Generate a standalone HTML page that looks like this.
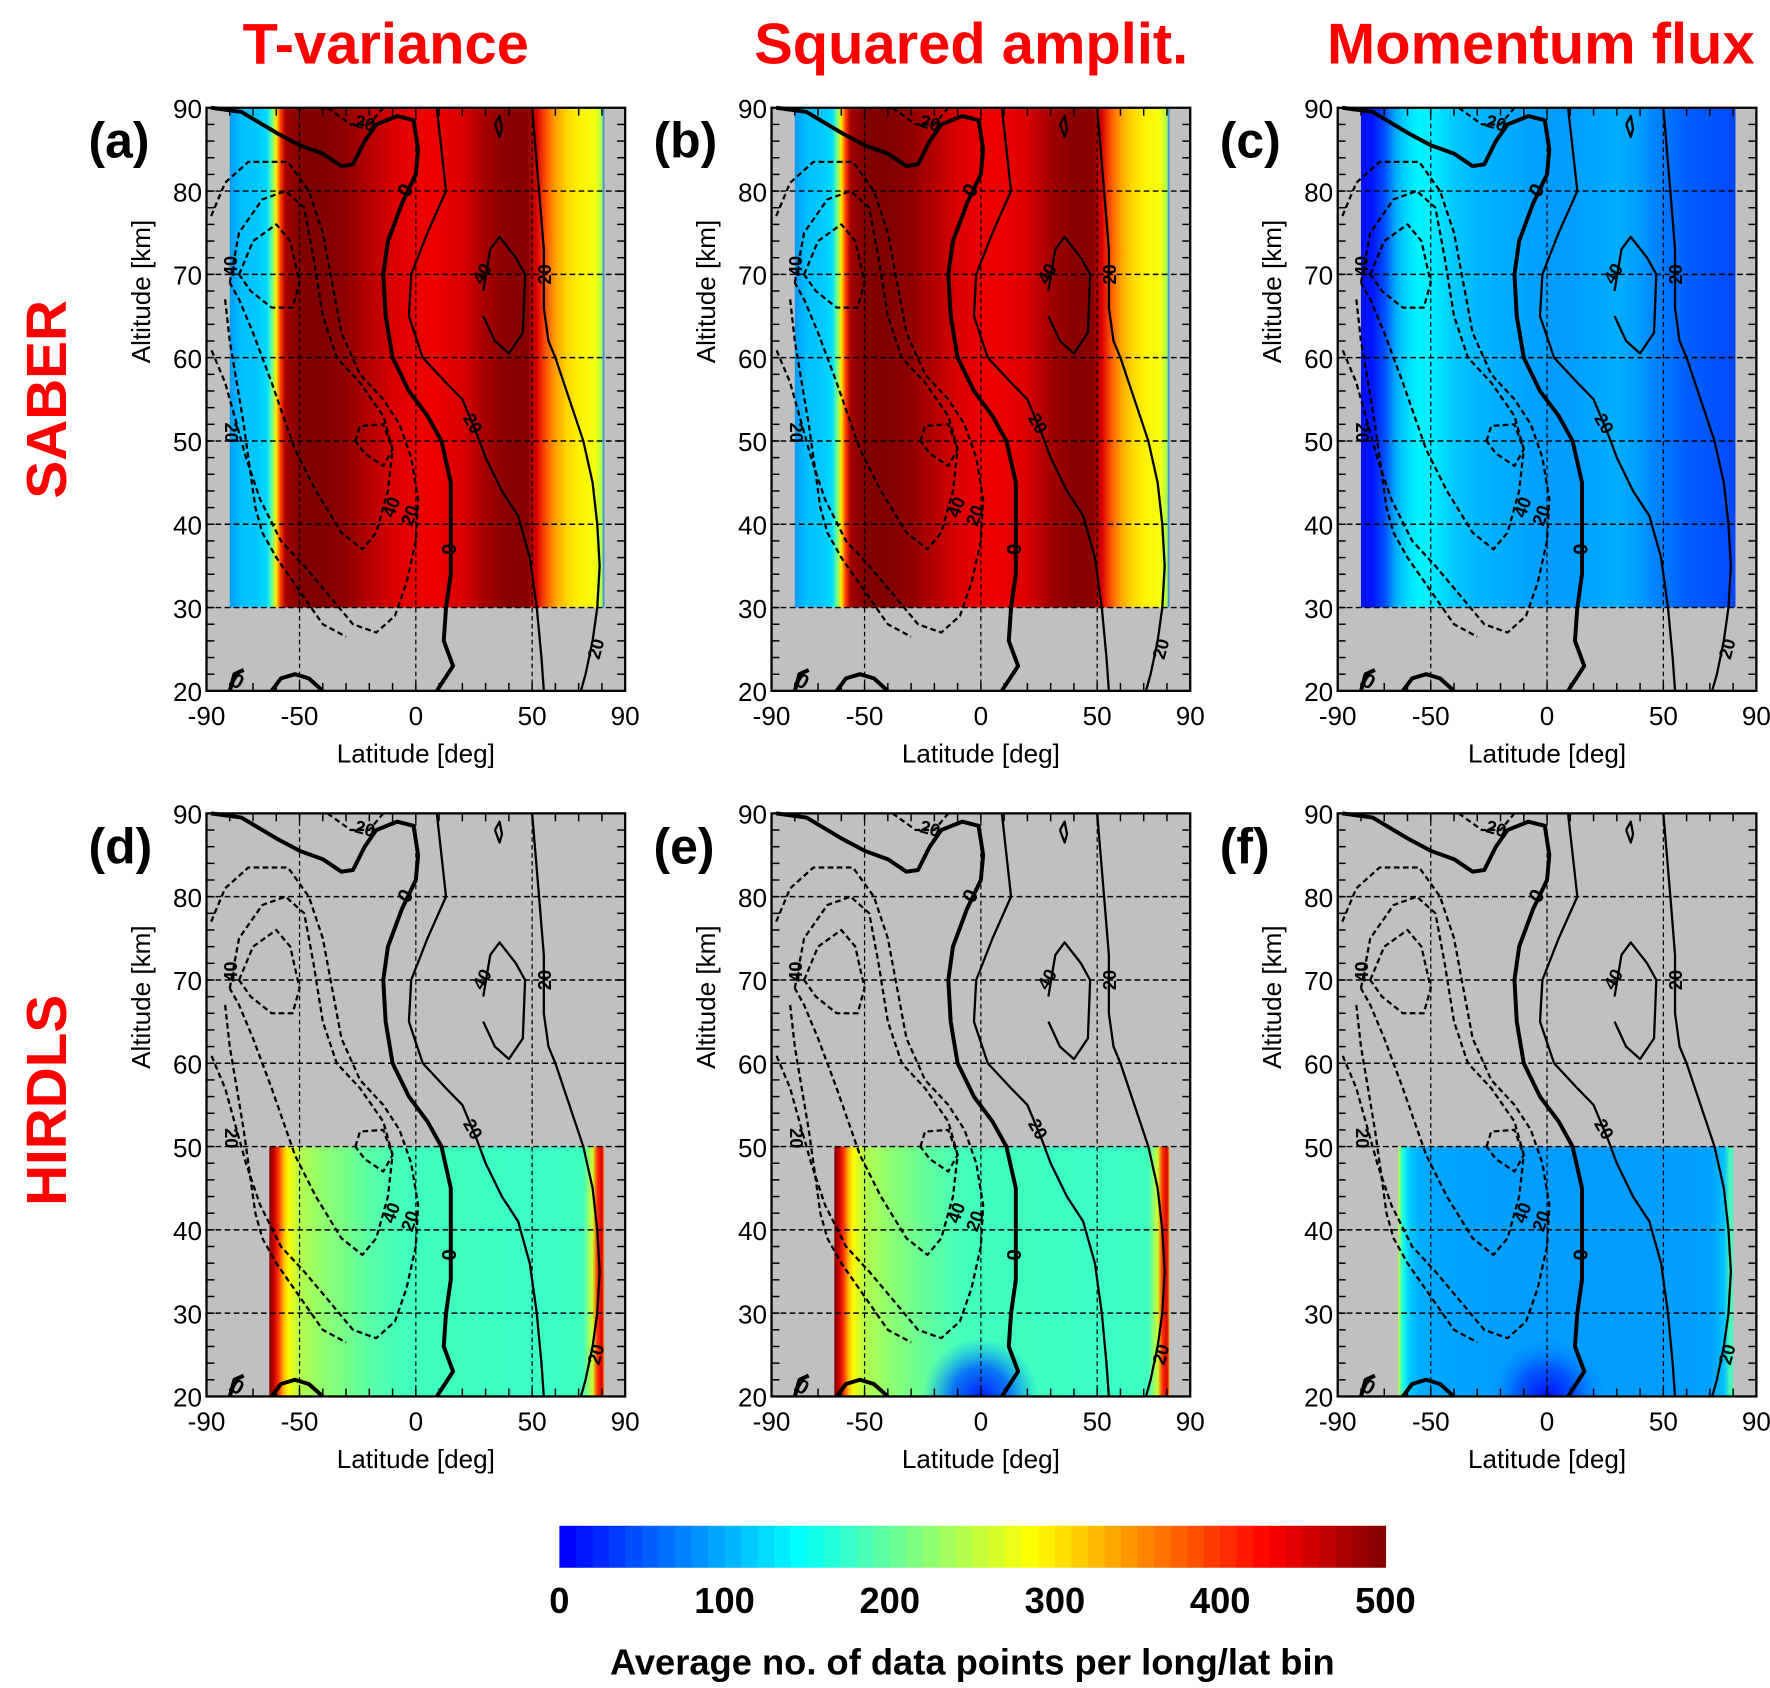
<!DOCTYPE html>
<html><head><meta charset="utf-8">
<style>
html,body{margin:0;padding:0;background:#fff;}
svg{display:block;font-family:"Liberation Sans",Arial,sans-serif;}
</style></head>
<body>
<svg id="fig" xmlns="http://www.w3.org/2000/svg" width="1770" height="1688" viewBox="0 0 1560 1488" preserveAspectRatio="none">
<defs id="defs"></defs>
<g id="root"></g>
</svg>
<script>
// ---------- data ----------
const latsA = [-80,-75,-68,-64,-62,-60,-58,-56,-50,-40,-30,-20,-10,0,10,20,30,40,48,52,56,60,65,70,77,80,81];
const valsA = [90,110,115,125,200,300,400,480,500,500,490,470,450,440,440,450,480,495,495,450,380,340,310,295,280,240,60];
const latsC = [-80,-75,-70,-65,-60,-55,-50,-40,-30,-20,-10,0,10,20,30,40,50,60,70,78,81];
const valsC = [10,15,45,100,125,140,135,115,105,100,95,90,90,95,100,90,70,55,50,45,40];
const latsD = [-63,-61,-59,-57,-55,-50,-40,-30,-20,-10,0,20,40,60,72,76,78,80,81];
const valsD = [500,460,400,330,290,245,225,210,195,185,180,180,178,178,180,260,400,450,350];
const latsF = [-64,-62,-59,-55,-45,-30,0,40,70,76,79,80];
const valsF = [250,160,115,100,95,92,90,90,92,110,190,170];
const blobE = [0, 20, 20];   // lat, alt, value
const blobF = [0, 20, 10];
const cbTicks = [0,100,200,300,400,500];
const xTicks = [-90,-50,0,50,90];
const yTicks = [20,30,40,50,60,70,80,90];

// contours: [lat, alt] points
const cZero = [[-88,90],[-75,89.5],[-60,87],[-50,85.5],[-40,84.5],[-32,83],[-27,83.2],[-22,86],[-17,88],[-8,89],[-1,88.5],[1,85],[0,82],[-6,78.5],[-12,74],[-14,70],[-13,65],[-10,60],[-3,56],[5,53],[11,50],[15,45],[15,40],[15,34],[13,30],[12,26],[16,23],[9,20]];
const cZeroBL = [[-80,20],[-78,22],[-74,22.5]];
const cArc = [[-62,20],[-58,21.5],[-52,22],[-46,21.5],[-40,20]];
const c20mid = [[9,90],[13,80],[5,75],[-2,70],[-3,65],[3,60],[13,57],[20,55],[26,51],[30,48],[37,44],[44,41],[49,36],[52,30],[54,24],[55,20]];
const c40 = [[29,68],[32,73],[36,74.5],[43,72],[47,70],[46,63],[40,60.5],[34,62],[29,65]];
const c20right = [[50,90],[53,80],[55,73],[55,66],[57,62],[60,60],[66,55],[72,50],[76,45],[78,40],[79,35],[78,30],[76,26],[73,22],[71,20]];
const cDiam = [[34,88],[36,86.5],[37,87.5],[36,89],[34,88]];
const cTopDash = [[-38,90],[-28,88],[-20,88],[-14,90]];
const cOuter = [[-88,77],[-82,81],[-72,83.5],[-55,83.5],[-46,80],[-40,75],[-36,69],[-32,63],[-24,58],[-14,55],[-7,52],[-2,48],[1,43],[0,38],[-4,33],[-9,29],[-17,27],[-27,28],[-36,31],[-48,35],[-58,38],[-67,43],[-73,48],[-78,53],[-82,57],[-88,61]];
const c40d = [[-80,69],[-76,75],[-66,79],[-56,80],[-48,78],[-44,72],[-40,65],[-34,60],[-24,57],[-14,53],[-10,49],[-12,44],[-17,39],[-23,37],[-32,39],[-43,44],[-52,49],[-62,57],[-70,63],[-76,67],[-80,69]];
const c60d = [[-76,70],[-70,74],[-60,76],[-54,74],[-50,69],[-53,66],[-62,66],[-71,68],[-76,70]];
const cSmall = [[-26,50],[-24,51.8],[-14,52],[-10,49],[-14,47],[-22,48.5],[-26,50]];
const cLeft = [[-82,67],[-80,62],[-77,57],[-74,52],[-71,46],[-69,42],[-66,39],[-60,36],[-50,32],[-40,28],[-30,26.5]];
const labels = [["0",-4,80,-60,true],["20",24,52,60,false],["40",29,70,-60,false],["20",56,70,-90,false],["20",78,25,-75,false],["0",15,37,-90,true],["20",-22,88,15,false],["40",-79,71,-90,false],["20",-80,51,90,false],["40",-10,42,-70,false],["20",-2,41,-70,false],["0",-77,21,30,true]];

// ---------- helpers ----------
const NS = "http://www.w3.org/2000/svg";
const root = document.getElementById('root');
const defs = document.getElementById('defs');
function el(tag, attrs, parent){const e=document.createElementNS(NS,tag);for(const k in attrs)e.setAttribute(k,attrs[k]);(parent||root).appendChild(e);return e;}
function jet(v){const t=0.12+0.88*Math.max(0,Math.min(1,v/500));const c=x=>Math.round(255*Math.max(0,Math.min(1,1.5-Math.abs(4*t-x))));return `rgb(${c(3)},${c(2)},${c(1)})`;}

const colX=[182,680,1179], rowY=[95,717], PW=369, PH=514;
const panels=[
 {c:0,r:0,lab:"(a)",lats:latsA,vals:valsA,a0:30,a1:90,blob:null},
 {c:1,r:0,lab:"(b)",lats:latsA,vals:valsA,a0:30,a1:90,blob:null},
 {c:2,r:0,lab:"(c)",lats:latsC,vals:valsC,a0:30,a1:90,blob:null},
 {c:0,r:1,lab:"(d)",lats:latsD,vals:valsD,a0:20,a1:50,blob:null},
 {c:1,r:1,lab:"(e)",lats:latsD,vals:valsD,a0:20,a1:50,blob:blobE},
 {c:2,r:1,lab:"(f)",lats:latsF,vals:valsF,a0:20,a1:50,blob:blobF}];

panels.forEach((p,i)=>{
 const X0=colX[p.c], Y0=rowY[p.r];
 const xs=lat=>X0+(lat+90)/180*PW;
 const ys=alt=>Y0+(90-alt)/70*PH;
 const g=el('g',{});
 
 
 el('rect',{x:X0,y:Y0,width:PW,height:PH,fill:'#c0c0c0'},g);
 const gid='grad'+i;
 const lg=el('linearGradient',{id:gid,gradientUnits:'userSpaceOnUse',x1:xs(p.lats[0]),x2:xs(p.lats[p.lats.length-1]),y1:0,y2:0},defs);
 const span=p.lats[p.lats.length-1]-p.lats[0];
 p.lats.forEach((l,j)=>el('stop',{offset:((l-p.lats[0])/span).toFixed(4),'stop-color':jet(p.vals[j])},lg));
 const field=el('rect',{x:xs(p.lats[0]),y:ys(p.a1),width:xs(p.lats[p.lats.length-1])-xs(p.lats[0]),height:ys(p.a0)-ys(p.a1),fill:`url(#${gid})`},g);
 
 
 if(p.blob){
  const rid='blob'+i;
  const rg=el('radialGradient',{id:rid},defs);
  el('stop',{offset:'0','stop-color':jet(p.blob[2]),'stop-opacity':'1'},rg);
  el('stop',{offset:'0.5','stop-color':jet(p.blob[2]+35),'stop-opacity':'0.85'},rg);
  el('stop',{offset:'1','stop-color':jet(p.blob[2]+70),'stop-opacity':'0'},rg);
  const cp='clip'+i;
  const clip=el('clipPath',{id:cp},defs);
  el('rect',{x:X0,y:ys(p.a1),width:PW,height:ys(p.a0)-ys(p.a1)},clip);
  const b=el('ellipse',{cx:xs(p.blob[0]),cy:ys(p.blob[1]),rx:(xs(25)-xs(0)),ry:(ys(p.blob[1])-ys(p.blob[1]+7)),fill:`url(#${rid})`,'clip-path':`url(#${cp})`},g);
  
  
 }
 [30,40,50,60,70,80].forEach(a=>el('line',{x1:X0,x2:X0+PW,y1:ys(a),y2:ys(a),stroke:'#000','stroke-width':1.3,'stroke-dasharray':'5,3'},g));
 [-50,0,50].forEach(l=>el('line',{x1:xs(l),x2:xs(l),y1:Y0,y2:Y0+PH,stroke:'#000','stroke-width':1.1,'stroke-dasharray':'4,3'},g));
 const pl=(pts,w,dash,name)=>{const e=el('polyline',{points:pts.map(q=>xs(q[0]).toFixed(1)+','+ys(q[1]).toFixed(1)).join(' '),fill:'none',stroke:'#000','stroke-width':w,'stroke-dasharray':dash||'none','stroke-linejoin':'round'},g);};
 pl(cZero,3.5,null,'contour-zero');
 pl(cZeroBL,3.5,null,'contour-zero-bottom');
 pl(cArc,3.5,null,'contour-zero-arc');
 pl(c20mid,2,null,'contour-20-mid');
 pl(c40,2,null,'contour-40');
 pl(c20right,2,null,'contour-20-right');
 pl(cDiam,2,null,'contour-small-diamond');
 pl(cTopDash,2,'5,3','contour-neg20-top');
 pl(cOuter,2,'5,3','contour-neg20');
 pl(c40d,2,'5,3','contour-neg40');
 pl(c60d,2,'5,3','contour-neg60');
 pl(cSmall,2,'5,3','contour-neg-small');
 pl(cLeft,2,'5,3','contour-neg20-left');
 labels.forEach(L=>{
  const t=el('text',{x:xs(L[1]),y:ys(L[2]),'font-size':L[4]?18:16,'font-weight':'bold','text-anchor':'middle','dominant-baseline':'middle',transform:`rotate(${L[3]} ${xs(L[1])} ${ys(L[2])})`},g);
  t.textContent=L[0];
  
  
 });
 el('rect',{x:X0,y:Y0,width:PW,height:PH,fill:'none',stroke:'#000','stroke-width':2},g);
 for(let l=-80;l<=80;l+=10){el('line',{x1:xs(l),x2:xs(l),y1:Y0+PH,y2:Y0+PH-7,stroke:'#000','stroke-width':1.3},g);el('line',{x1:xs(l),x2:xs(l),y1:Y0,y2:Y0+7,stroke:'#000','stroke-width':1.3},g);}
 for(let a=22;a<90;a+=2){el('line',{x1:X0,x2:X0+7,y1:ys(a),y2:ys(a),stroke:'#000','stroke-width':1.3},g);el('line',{x1:X0+PW,x2:X0+PW-7,y1:ys(a),y2:ys(a),stroke:'#000','stroke-width':1.3},g);}
 xTicks.forEach(v=>{const t=el('text',{x:xs(v),y:Y0+PH+30,'font-size':23,'text-anchor':'middle'},g);t.textContent=v;});
 yTicks.forEach(v=>{const t=el('text',{x:X0-4,y:ys(v)+9,'font-size':23,'text-anchor':'end'},g);t.textContent=v;});
 const xt=el('text',{x:X0+PW/2,y:Y0+PH+63,'font-size':23,'text-anchor':'middle'},g);xt.textContent='Latitude [deg]';
 
 const yt=el('text',{x:0,y:0,'font-size':23,'text-anchor':'middle',transform:`translate(${X0-50},${Y0+PH/2-95}) rotate(-90)`},g);yt.textContent='Altitude [km]';
 
 const pl2=el('text',{x:X0-104,y:Y0+44,'font-size':44,'font-weight':'bold'},g);pl2.textContent=p.lab;
 
});

[["T-variance",340],["Squared amplit.",856],["Momentum flux",1358]].forEach(c=>{
 const t=el('text',{x:c[1],y:56,'font-size':51,'font-weight':'bold',fill:'#ff0000','text-anchor':'middle'});t.textContent=c[0];
 
});
[["SABER",352],["HIRDLS",970]].forEach(r=>{
 const t=el('text',{x:0,y:0,'font-size':50,'font-weight':'bold',fill:'#ff0000','text-anchor':'middle',transform:`translate(58,${r[1]}) rotate(-90)`});t.textContent=r[0];
 
});

const CB0=493, CB1=1221, CBy=1345, CBh=37;
const cbx=v=>CB0+v/500*(CB1-CB0);
const cbg=el('g',{});


const nSteps=50;
for(let k=0;k<nSteps;k++){const v0=k*500/nSteps;el('rect',{x:cbx(v0),y:CBy,width:(CB1-CB0)/nSteps+0.6,height:CBh,fill:jet(v0+5)},cbg);}
cbTicks.forEach(v=>{const t=el('text',{x:cbx(v),y:1422,'font-size':32,'font-weight':'bold','text-anchor':'middle'},cbg);t.textContent=v;});
const cbt=el('text',{x:857,y:1476,'font-size':32,'font-weight':'bold','text-anchor':'middle'},cbg);
cbt.textContent='Average no. of data points per long/lat bin';


</script>
</body></html>
